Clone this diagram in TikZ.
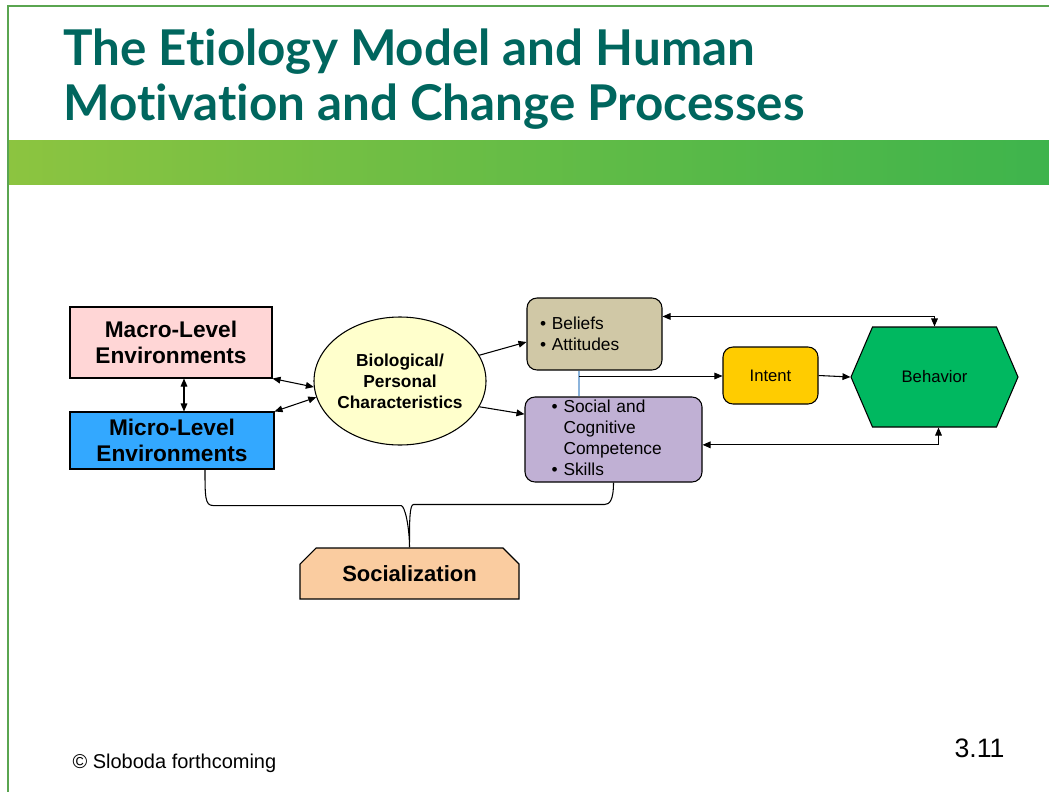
\documentclass[tikz,border=0pt]{standalone}
\usepackage{fontspec}
\setmainfont{Liberation Sans}
\newfontfamily\titlefont[Ligatures=NoCommon]{Lato}
\usetikzlibrary{positioning, arrows.meta, shapes.geometric, shapes.misc}

\definecolor{titleteal}{RGB}{0,102,94}
\definecolor{framegreen}{RGB}{90,165,80}
\definecolor{macropink}{RGB}{255,214,214}
\definecolor{microblue}{RGB}{51,168,255}
\definecolor{bioyellow}{RGB}{255,255,204}
\definecolor{belieftan}{RGB}{208,200,166}
\definecolor{sociallilac}{RGB}{192,176,212}
\definecolor{intentgold}{RGB}{255,204,0}
\definecolor{behavgreen}{RGB}{0,184,96}
\definecolor{socpeach}{RGB}{250,204,160}
\definecolor{splitblue}{RGB}{140,180,220}

\begin{document}
\begin{tikzpicture}[
    x=0.75pt, y=-0.75pt,
    every node/.style={draw, thick, inner sep=0pt, align=center},
    envbox/.style={rectangle, font=\fontsize{17}{20}\selectfont\bfseries},
    roundbox/.style={rectangle, rounded corners=7.5pt, font=\fontsize{13}{15.75}\selectfont},
    plain/.style={draw=none},
    link/.style={thick, {Triangle[length=6pt,width=5pt]}-{Triangle[length=6pt,width=5pt]}},
    tolink/.style={thick, -{Triangle[length=6pt,width=5pt]}}
]
\useasboundingbox (0,0) rectangle (1049,792);

% frame and banner
\draw[framegreen, line width=1.5pt] (8,792) -- (8,6) -- (1049,6);
\fill[left color={rgb,255:red,140;green,196;blue,64}, right color={rgb,255:red,62;green,180;blue,76}]
    (9,140) rectangle (1049,184);
\node[plain, anchor=base west, text=titleteal, font=\titlefont\bfseries\fontsize{37}{41}\selectfont]
    (title1) at (63,65) {The Etiology Model and Human};
\node[plain, anchor=base west, text=titleteal, font=\titlefont\bfseries\fontsize{37}{41}\selectfont]
    (title2) at (63,120) {Motivation and Change Processes};

% boxes
\node[envbox, fill=macropink, minimum width=151.5pt, minimum height=53.25pt]
    (macro) at (171,342.5) {Macro-Level\\Environments};
\node[envbox, fill=microblue, minimum width=153pt, minimum height=42.75pt]
    (micro) at (172,440.5) {Micro-Level\\Environments};
\node[ellipse, fill=bioyellow, minimum width=129pt, minimum height=96pt, inner xsep=-2.5pt,
      font=\fontsize{13}{15.75}\selectfont\bfseries]
    (bio) at (400,381) {Biological/\\Personal\\Characteristics};
\node[roundbox, fill=belieftan, inner xsep=9.75pt, text width=81.75pt, minimum height=54pt, align=left]
    (beliefs) at (594.5,334) {\textbullet{} Beliefs\\\textbullet{} Attitudes};
\node[roundbox, fill=sociallilac, inner xsep=20pt, text width=92.75pt, minimum height=63.75pt, align=left]
    (social) at (613.5,439.5) {%
    \begin{tabular}{@{}l@{ }l@{}}
    \textbullet & Social and\\
     & Cognitive\\
     & Competence\\
    \textbullet & Skills
    \end{tabular}};
\node[roundbox, fill=intentgold, minimum width=71.25pt, minimum height=42.75pt, font=\fontsize{12.5}{15}\selectfont]
    (intent) at (770.5,375.5) {Intent};
% hexagon for behavior
\coordinate (hexc) at (934.5,377);
\filldraw[thick, fill=behavgreen] (hexc) ++(-83.5,0) -- ++(21.5,-50) -- ++(124,0) -- ++(21.5,50)
    -- ++(-21.5,50) -- ++(-124,0) -- cycle;
\node[plain, minimum width=125.25pt, minimum height=75pt, font=\fontsize{12.5}{15}\selectfont]
    (behavior) at (hexc) {Behavior};
\node[chamfered rectangle, chamfered rectangle corners={north west, north east},
      chamfered rectangle xsep=6pt, chamfered rectangle ysep=6pt,
      fill=socpeach, minimum width=164.25pt, minimum height=38.25pt,
      font=\fontsize{16.5}{20}\selectfont\bfseries]
    (socialization) at (409.5,573.5) {Socialization};

% connectors
\draw[link] ([xshift=9.75pt]macro.south) -- ([xshift=9pt]micro.north);
\draw[link] (macro.south east) -- (bio.184);
\draw[link] (micro.north east) -- (bio.191);
\draw[tolink] (bio.18) -- ([yshift=-6pt]beliefs.west);
\draw[tolink] (bio.-18) -- ([yshift=19pt]social.west);
\coordinate (split) at (579,376);
\draw[splitblue, thick] (beliefs.south -| split) -- (social.north -| split);
\draw[tolink, semithick] (split) -- (split -| intent.west);
\draw[tolink] (intent.east) -- (behavior.west);
\draw[link] ([yshift=-14.25pt]beliefs.north east) -| (behavior.north);
\draw[link] ([yshift=-4pt]social.east) -| ([xshift=3pt]behavior.south);

% brace to socialization
\draw[thick] ([xshift=24.75pt]micro.south) .. controls ++(0,27) and ++(-8,0) .. ++(8,36)
    -- ++(188,0) .. controls ++(4,0) and ++(0,-20) .. (socialization.north)
    (socialization.north) ++(0,-5) .. controls ++(0,-20) and ++(-4,0) .. ++(4,-38)
    -- ++(191,0) .. controls ++(5,0) and ++(0,18) .. (social.south);

% footer
\node[plain, anchor=base west, font=\fontsize{15}{18}\selectfont] (credit) at (72,768) {\textcopyright{} Sloboda forthcoming};
\node[plain, anchor=base east, font=\fontsize{20}{24}\selectfont] (slideno) at (1005,757) {3.11};
\end{tikzpicture}
\end{document}
